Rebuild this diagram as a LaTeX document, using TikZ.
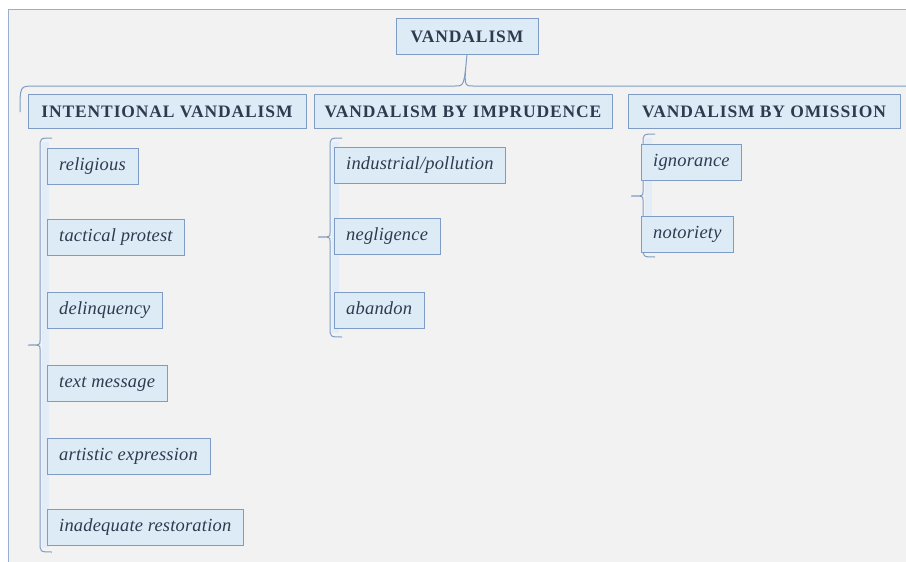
\documentclass[tikz,border=0pt]{standalone}
\usepackage{fontspec}
\setmainfont{Liberation Serif}
\newfontfamily\headfont[LetterSpace=5]{Liberation Serif}
\newfontfamily\leaffont[LetterSpace=1]{Liberation Serif}
\definecolor{PaperGray}{HTML}{F2F2F2}
\definecolor{FrameBlue}{HTML}{9AAFCF}
\definecolor{BoxFill}{HTML}{DDEBF7}
\definecolor{BoxLine}{HTML}{7F9CC4}
\definecolor{InkBlue}{HTML}{2E3B4E}
\definecolor{StripBlue}{HTML}{E2EDF7}
\tikzset{
    rootbox/.style={draw=BoxLine, fill=BoxFill, text=InkBlue, font=\headfont\fontsize{17.5}{19}\selectfont\bfseries,
        minimum width=142pt, minimum height=36pt, inner sep=0pt, text height=12pt, text depth=0pt},
    headbox/.style={draw=BoxLine, fill=BoxFill, text=InkBlue, font=\headfont\fontsize{17.5}{19}\selectfont\bfseries,
        minimum height=34pt, inner sep=0pt, text height=12pt, text depth=0pt},
    leafbox/.style={draw=BoxLine, fill=BoxFill, text=InkBlue, font=\leaffont\fontsize{18.5}{20}\selectfont\itshape,
        anchor=west, minimum height=36pt, inner xsep=12pt, inner ysep=0pt, text height=11pt, text depth=2pt},
    bracket/.style={draw=BoxLine, line width=1pt}
}
% #1 x of the bracket, #2 top, #3 bottom, #4 tip
\NewDocumentCommand{\SideBracket}{m m m m}{
    \fill[StripBlue] (#1+2,#2+4) rectangle (#1+9,#3-4);
    \draw[bracket] (#1+12,#2) .. controls (#1,#2) .. (#1,#2+10)
        -- (#1,#4-4) .. controls (#1,#4) .. (#1-12,#4)
        .. controls (#1,#4) .. (#1,#4+4)
        -- (#1,#3-10) .. controls (#1,#3) .. (#1+12,#3);
}

\begin{document}
\begin{tikzpicture}[x=1pt, y=-1pt]
\useasboundingbox (0,0) rectangle (906,562);
\fill[PaperGray] (8,9) rectangle (906,562);
\draw[FrameBlue, line width=1pt] (8,562) -- (8,9) -- (906,9);

\node[rootbox] (vandalism) at (467,36) {VANDALISM};

\node[headbox, minimum width=278pt] (intentional) at (167,111) {INTENTIONAL VANDALISM};
\node[headbox, minimum width=298pt] (imprudence) at (463,111) {VANDALISM BY IMPRUDENCE};
\node[headbox, minimum width=272pt] (omission) at (764,111) {VANDALISM BY OMISSION};

% top brace
\coordinate (brace-left) at (20,112);
\coordinate (brace-right) at (906,86);
\draw[bracket] (brace-left) .. controls (20,86) .. (34,86) -- (455,86)
    .. controls (464,86) .. (vandalism.south)
    .. controls (464,86) .. (473,86) -- (brace-right);

% intentional
\SideBracket{40}{138}{552}{345}
\node[leafbox] (religious) at (47,166) {religious};
\node[leafbox] (tactical) at (47,237) {tactical protest};
\node[leafbox] (delinquency) at (47,310) {delinquency};
\node[leafbox] (textmsg) at (47,383) {text message};
\node[leafbox] (artistic) at (47,456) {artistic expression};
\node[leafbox] (restoration) at (47,527) {inadequate restoration};

% imprudence
\SideBracket{330}{138}{337}{237}
\node[leafbox] (industrial) at (334,165) {industrial/pollution};
\node[leafbox] (negligence) at (334,236) {negligence};
\node[leafbox] (abandon) at (334,310) {abandon};

% omission
\SideBracket{643}{134}{257}{196}
\node[leafbox] (ignorance) at (641,162) {ignorance};
\node[leafbox] (notoriety) at (641,234) {notoriety};

\end{tikzpicture}
\end{document}
